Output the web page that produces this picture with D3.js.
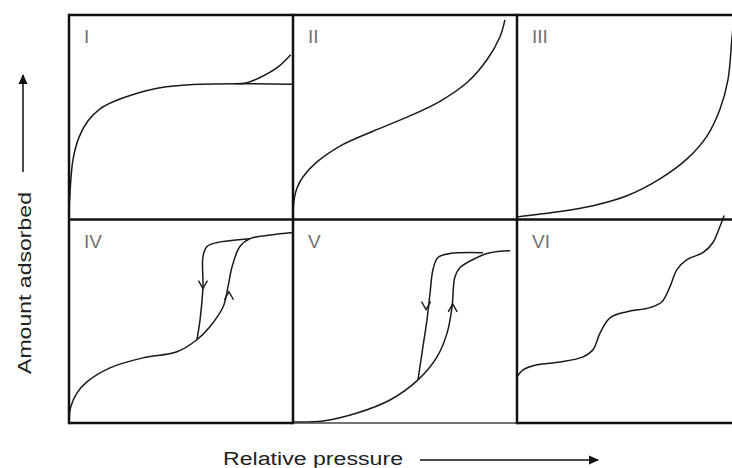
<!DOCTYPE html>
<html>
<head>
<meta charset="utf-8">
<script src="https://cdn.jsdelivr.net/npm/d3@7"></script>
<style>
  html, body { margin: 0; padding: 0; background: #fff; }
  svg { display: block; }
</style>
</head>
<body>
<script>
// ---- Data (relative pressure 0..1, amount adsorbed 0..1 within each panel) ----
const panelLabels = ["I", "II", "III", "IV", "V", "VI"];
const xLabel = "Relative pressure";
const yLabel = "Amount adsorbed";

const typeI = [[0,0.02],[0.004,0.12],[0.018,0.29],[0.045,0.4],[0.085,0.48],[0.14,0.54],[0.2,0.575],
  [0.28,0.607],[0.406,0.642],[0.554,0.658],[0.777,0.662],[1.0,0.66]];
const typeIStep = [[0.74,0.662],[0.79,0.666],[0.853,0.693],[0.929,0.741],[0.99,0.805]];
const typeII = [[0,0.03],[0.006,0.1],[0.018,0.15],[0.045,0.205],[0.107,0.278],[0.21,0.356],
  [0.357,0.429],[0.509,0.498],[0.656,0.576],[0.777,0.668],[0.866,0.78],[0.924,0.893],[0.946,0.976]];
const typeIII = [[0,0.008],[0.192,0.034],[0.339,0.063],[0.491,0.112],[0.638,0.195],[0.759,0.293],
  [0.848,0.405],[0.906,0.537],[0.942,0.683],[0.96,0.893],[0.969,0.99]];
const typeIVads = [[0,0.01],[0.008,0.08],[0.036,0.148],[0.08,0.202],[0.183,0.271],[0.33,0.32],
  [0.482,0.35],[0.571,0.409],[0.629,0.473],[0.688,0.571],[0.71,0.67],[0.728,0.768],
  [0.763,0.867],[0.808,0.906],[0.9,0.924],[1.0,0.936]];
const typeIVdes = [[0.808,0.906],[0.661,0.887],[0.616,0.867],[0.598,0.818],[0.598,0.67],
  [0.585,0.507],[0.571,0.409]];
const typeVads = [[0,0.005],[0.134,0.01],[0.286,0.049],[0.433,0.113],[0.558,0.212],[0.643,0.325],
  [0.688,0.443],[0.71,0.571],[0.723,0.719],[0.746,0.764],[0.821,0.813],[0.879,0.837],[0.969,0.847]];
const typeVdes = [[0.848,0.837],[0.701,0.833],[0.647,0.813],[0.625,0.754],[0.612,0.64],
  [0.598,0.507],[0.576,0.345],[0.558,0.212]];
const typeVI = [[0,0.227],[0.027,0.261],[0.089,0.286],[0.192,0.3],[0.295,0.325],[0.339,0.36],
  [0.371,0.443],[0.415,0.517],[0.491,0.547],[0.594,0.567],[0.647,0.596],[0.683,0.67],
  [0.714,0.754],[0.759,0.803],[0.83,0.837],[0.875,0.887],[0.906,0.966],[0.925,1.02]];

// arrow markers on hysteresis branches: [panelIndex, p, amount, direction(+1 up, -1 down)]
const hysteresisArrows = [[3,0.598,0.66,-1],[3,0.714,0.645,1],[4,0.594,0.557,-1],[4,0.713,0.585,1]];

const panelCurves = [
  [typeI, typeIStep], [typeII], [typeIII],
  [typeIVads, typeIVdes], [typeVads, typeVdes], [typeVI]
];

// ---- Layout ----
const W = 732, H = 468;
const colLefts = [69, 293, 517], panelW = 224;
const rowTops = [15, 219.5], panelH = 203.5;

const svg = d3.select("body").append("svg").attr("width", W).attr("height", H);

const line = d3.line().curve(d3.curveCatmullRom.alpha(0.5));

panelCurves.forEach((curves, i) => {
  const c = i % 3, r = Math.floor(i / 3);
  const x0 = colLefts[c], y0 = rowTops[r];
  const xs = d3.scaleLinear().domain([0, 1]).range([x0, x0 + panelW]);
  const ys = d3.scaleLinear().domain([0, 1]).range([y0 + panelH, y0]);
  const g = svg.append("g");
  curves.forEach(data => {
    g.append("path")
      .attr("d", line(data.map(d => [xs(d[0]), ys(d[1])])))
      .attr("fill", "none").attr("stroke", "#1a1a1a").attr("stroke-width", 1.5);
  });
  g.append("text")
    .attr("x", x0 + 15).attr("y", y0 + 28)
    .attr("font-family", "Liberation Sans, Arial, sans-serif")
    .attr("font-size", 19).attr("fill", "#707070")
    .text(panelLabels[i]);
});

// hysteresis chevrons
hysteresisArrows.forEach(([i, p, a, dir]) => {
  const c = i % 3, r = Math.floor(i / 3);
  const x0 = colLefts[c], y0 = rowTops[r];
  const xs = d3.scaleLinear().domain([0, 1]).range([x0, x0 + panelW]);
  const ys = d3.scaleLinear().domain([0, 1]).range([y0 + panelH, y0]);
  const tx = xs(p), ty = ys(a);
  svg.append("path")
    .attr("d", `M${tx - 4.5},${ty + dir * 8}L${tx},${ty}L${tx + 4.5},${ty + dir * 8}`)
    .attr("fill", "none").attr("stroke", "#1a1a1a").attr("stroke-width", 1.4);
});

// panel borders
const grid = svg.append("g").attr("fill", "none").attr("stroke", "#111");
grid.append("line").attr("x1", colLefts[0]).attr("x2", W).attr("y1", rowTops[0]).attr("y2", rowTops[0]).attr("stroke-width", 2.5);
grid.append("line").attr("x1", colLefts[0]).attr("x2", W).attr("y1", rowTops[1]).attr("y2", rowTops[1]).attr("stroke-width", 2.5);
grid.append("line").attr("x1", colLefts[0]).attr("x2", colLefts[1]).attr("y1", rowTops[1] + panelH).attr("y2", rowTops[1] + panelH).attr("stroke-width", 2.5);
grid.append("line").attr("x1", colLefts[1]).attr("x2", colLefts[2]).attr("y1", rowTops[1] + panelH).attr("y2", rowTops[1] + panelH).attr("stroke-width", 1.4).attr("stroke", "#444");
grid.append("line").attr("x1", colLefts[2]).attr("x2", W).attr("y1", rowTops[1] + panelH).attr("y2", rowTops[1] + panelH).attr("stroke-width", 2.5);
colLefts.forEach(x => {
  grid.append("line").attr("x1", x).attr("x2", x).attr("y1", rowTops[0] - 1.2).attr("y2", rowTops[1] + panelH + 1.2).attr("stroke-width", 2.5);
});

// axis titles with arrows
const defs = svg.append("defs");
defs.append("marker").attr("id", "ah").attr("viewBox", "0 0 10 10").attr("refX", 9).attr("refY", 5)
  .attr("markerWidth", 10).attr("markerHeight", 10).attr("markerUnits", "userSpaceOnUse")
  .attr("orient", "auto")
  .append("path").attr("d", "M0,0.5L10,5L0,9.5Z").attr("fill", "#111");

svg.append("text")
  .attr("x", 223).attr("y", 465)
  .attr("font-family", "Liberation Sans, Arial, sans-serif")
  .attr("font-size", 18).attr("fill", "#222")
  .attr("textLength", 180).attr("lengthAdjust", "spacingAndGlyphs")
  .text(xLabel);
svg.append("line").attr("x1", 420).attr("x2", 598).attr("y1", 460).attr("y2", 460)
  .attr("stroke", "#111").attr("stroke-width", 1.5).attr("marker-end", "url(#ah)");

svg.append("text")
  .attr("transform", "translate(31,374) rotate(-90)")
  .attr("font-family", "Liberation Sans, Arial, sans-serif")
  .attr("font-size", 18).attr("fill", "#222")
  .attr("textLength", 182).attr("lengthAdjust", "spacingAndGlyphs")
  .text(yLabel);
svg.append("line").attr("x1", 23).attr("x2", 23).attr("y1", 172).attr("y2", 75)
  .attr("stroke", "#111").attr("stroke-width", 1.5).attr("marker-end", "url(#ah)");
</script>
</body>
</html>
